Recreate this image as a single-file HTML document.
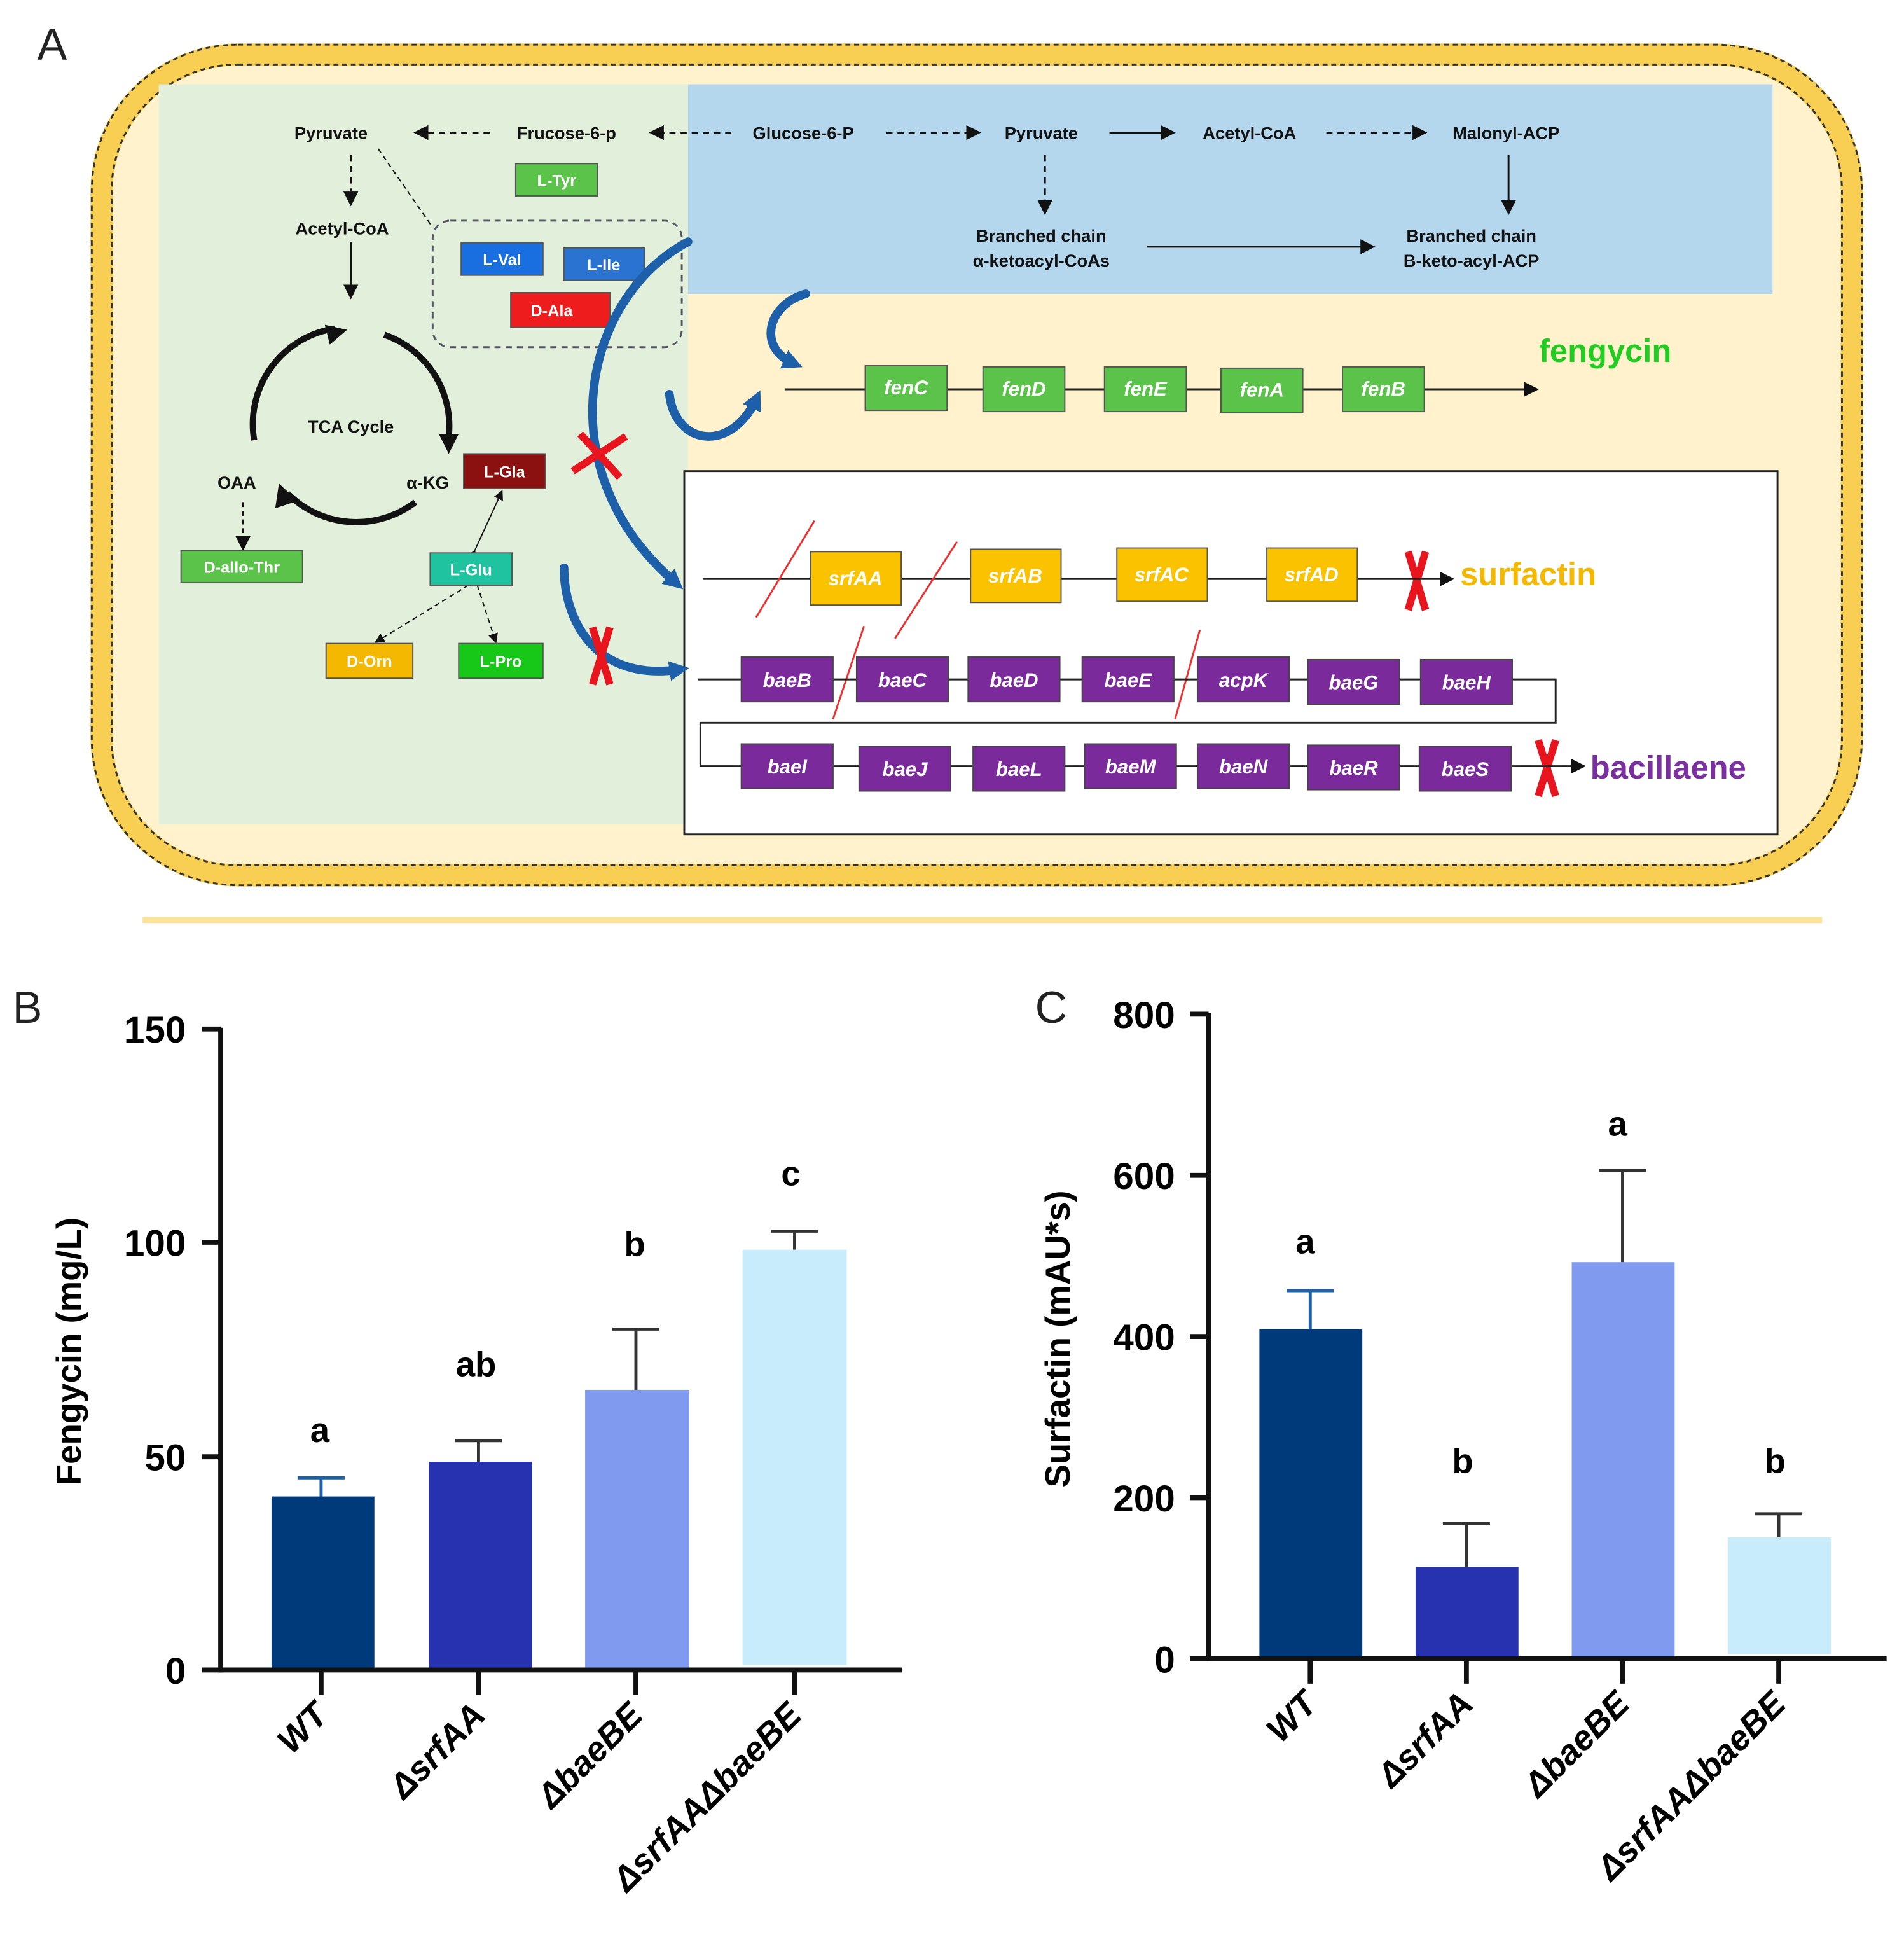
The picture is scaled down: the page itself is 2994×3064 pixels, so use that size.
<!DOCTYPE html>
<html><head><meta charset="utf-8"><style>
html,body{margin:0;padding:0;background:#fff}
svg{display:block}
text{font-family:"Liberation Sans",Arial,sans-serif}
.n{font-size:14px;font-weight:bold;fill:#111}
.bx{font-size:13px;fill:#fff;text-anchor:middle;font-weight:bold}
.g{font-size:16px;fill:#fff;text-anchor:middle;font-weight:bold;font-style:italic}
.ax{font-size:30px;font-weight:bold;text-anchor:end}
.lt{font-size:28px;font-weight:bold;text-anchor:middle}
.xl{font-size:28px;font-weight:bold;font-style:italic;text-anchor:end}
</style></head><body>
<svg width="2994" height="3064" viewBox="0 0 1536 1572" xmlns="http://www.w3.org/2000/svg">
<defs>
<marker id="ah" markerWidth="8" markerHeight="8" refX="7" refY="4" orient="auto"><path d="M0,0 L8,4 L0,8z" fill="#111"/></marker>
<marker id="bh" markerUnits="userSpaceOnUse" markerWidth="16" markerHeight="16" refX="8" refY="8" orient="auto"><path d="M0,0 L16,8 L0,16z" fill="#1d5fa8"/></marker>
</defs>
<text x="30" y="48" font-size="36" fill="#222">A</text>
<rect x="82" y="44" width="1412" height="662" rx="110" fill="#fff2cc" stroke="#f8cf52" stroke-width="18"/>
<rect x="74" y="36" width="1428" height="678" rx="118" fill="none" stroke="#333" stroke-width="1.5" stroke-dasharray="4,3"/>
<rect x="90" y="52" width="1396" height="646" rx="102" fill="none" stroke="#333" stroke-width="1.5" stroke-dasharray="4,3"/>
<rect x="128" y="68" width="427" height="597" fill="#e2efda"/>
<rect x="555" y="68" width="875" height="169" fill="#b4d7ee"/>
<rect x="552" y="380" width="882" height="293" fill="#fff" stroke="#222" stroke-width="1.5"/>
<line x1="115" y1="742" x2="1470" y2="742" stroke="#fbe39a" stroke-width="5"/>
<text class="n" x="267" y="112" text-anchor="middle">Pyruvate</text>
<text class="n" x="457" y="112" text-anchor="middle">Frucose-6-p</text>
<text class="n" x="648" y="112" text-anchor="middle">Glucose-6-P</text>
<text class="n" x="840" y="112" text-anchor="middle">Pyruvate</text>
<text class="n" x="1008" y="112" text-anchor="middle">Acetyl-CoA</text>
<text class="n" x="1215" y="112" text-anchor="middle">Malonyl-ACP</text>
<g stroke="#111" stroke-width="1.5" fill="none">
<line x1="395" y1="107" x2="335" y2="107" stroke-dasharray="5,4" marker-end="url(#ah)"/>
<line x1="590" y1="107" x2="525" y2="107" stroke-dasharray="5,4" marker-end="url(#ah)"/>
<line x1="715" y1="107" x2="790" y2="107" stroke-dasharray="5,4" marker-end="url(#ah)"/>
<line x1="895" y1="107" x2="947" y2="107" marker-end="url(#ah)"/>
<line x1="1070" y1="107" x2="1150" y2="107" stroke-dasharray="5,4" marker-end="url(#ah)"/>
<line x1="843" y1="125" x2="843" y2="172" stroke-dasharray="5,4" marker-end="url(#ah)"/>
<line x1="1217" y1="125" x2="1217" y2="172" marker-end="url(#ah)"/>
<line x1="925" y1="199" x2="1108" y2="199" marker-end="url(#ah)"/>
<line x1="283" y1="125" x2="283" y2="165" stroke-dasharray="5,4" marker-end="url(#ah)"/>
<line x1="305" y1="120" x2="348" y2="182" stroke-dasharray="4,3" stroke-width="1"/>
<line x1="283" y1="195" x2="283" y2="240" marker-end="url(#ah)"/>
<line x1="196" y1="405" x2="196" y2="443" stroke-dasharray="4,3" marker-end="url(#ah)"/>
<line x1="383" y1="444" x2="405" y2="396" stroke-width="1" marker-end="url(#ah)" marker-start="url(#ah)"/>
<line x1="378" y1="472" x2="303" y2="518" stroke-dasharray="4,3" stroke-width="1" marker-end="url(#ah)"/>
<line x1="385" y1="472" x2="400" y2="518" stroke-dasharray="4,3" stroke-width="1" marker-end="url(#ah)"/>
<rect x="349" y="178" width="201" height="102" rx="14" stroke="#556" stroke-dasharray="5,4"/>
</g>
<text class="n" x="276" y="189" text-anchor="middle">Acetyl-CoA</text>
<text class="n" x="840" y="195" text-anchor="middle">Branched chain</text>
<text class="n" x="840" y="215" text-anchor="middle">α-ketoacyl-CoAs</text>
<text class="n" x="1187" y="195" text-anchor="middle">Branched chain</text>
<text class="n" x="1187" y="215" text-anchor="middle">B-keto-acyl-ACP</text>
<g stroke="#111" stroke-width="5" fill="none">
<path d="M205,355 A78,78 0 0 1 270,265"/>
<path d="M310,270 A78,78 0 0 1 362,352"/>
<path d="M335,405 A78,78 0 0 1 232,398"/>
</g>
<path d="M262,262 L280,266 L266,278z" fill="#111"/>
<path d="M354,350 L370,350 L362,366z" fill="#111"/>
<path d="M225,390 L222,410 L240,404z" fill="#111"/>
<text class="n" x="283" y="349" text-anchor="middle">TCA Cycle</text>
<text class="n" x="191" y="394" text-anchor="middle">OAA</text>
<text class="n" x="345" y="394" text-anchor="middle">α-KG</text>
<g stroke="#555" stroke-width="1">
<rect x="416" y="132" width="66" height="26" fill="#5cc34a"/>
<rect x="372" y="196" width="66" height="26" fill="#1a6fe0"/>
<rect x="455" y="200" width="65" height="26" fill="#2b73d0"/>
<rect x="412" y="236" width="80" height="28" fill="#ee1c1c"/>
<rect x="374" y="366" width="66" height="28" fill="#8b1010"/>
<rect x="146" y="444" width="98" height="26" fill="#5cc34a"/>
<rect x="347" y="446" width="66" height="26" fill="#1fc3a0"/>
<rect x="263" y="519" width="70" height="28" fill="#f5b800"/>
<rect x="370" y="519" width="68" height="28" fill="#18c818"/>
</g>
<text class="bx" x="449" y="150">L-Tyr</text>
<text class="bx" x="405" y="214">L-Val</text>
<text class="bx" x="487" y="218">L-Ile</text>
<text class="bx" x="445" y="255">D-Ala</text>
<text class="bx" x="407" y="385">L-Gla</text>
<text class="bx" x="195" y="462">D-allo-Thr</text>
<text class="bx" x="380" y="464">L-Glu</text>
<text class="bx" x="298" y="538">D-Orn</text>
<text class="bx" x="404" y="538">L-Pro</text>
<g stroke="#1d5fa8" stroke-width="7" fill="none" stroke-linecap="round">
<path d="M555,195 C470,240 440,380 545,470" marker-end="url(#bh)"/>
<path d="M650,237 C620,245 610,280 640,293" marker-end="url(#bh)"/>
<path d="M540,318 C545,360 590,365 610,322" marker-end="url(#bh)"/>
<path d="M455,458 C455,500 480,550 548,540" marker-end="url(#bh)"/>
</g>
<g stroke="#e8141e" stroke-width="6">
<line x1="462" y1="380" x2="505" y2="352"/><line x1="468" y1="350" x2="500" y2="385"/>
<line x1="478" y1="506" x2="492" y2="552"/><line x1="492" y1="506" x2="478" y2="552"/>
<line x1="1136" y1="445" x2="1150" y2="492"/><line x1="1150" y1="445" x2="1136" y2="492"/>
<line x1="1241" y1="597" x2="1255" y2="642"/><line x1="1255" y1="597" x2="1241" y2="642"/>
</g>
<line x1="633" y1="314" x2="1240" y2="314" stroke="#222" stroke-width="1.5" marker-end="url(#ah)"/>
<g fill="#5cc34a" stroke="#555">
<rect x="698" y="295" width="66" height="36"/><rect x="793" y="296" width="66" height="36"/><rect x="891" y="296" width="66" height="36"/><rect x="985" y="297" width="66" height="36"/><rect x="1083" y="296" width="66" height="36"/>
</g>
<text class="g" x="731" y="318">fenC</text><text class="g" x="826" y="319">fenD</text><text class="g" x="924" y="319">fenE</text><text class="g" x="1018" y="320">fenA</text><text class="g" x="1116" y="319">fenB</text>
<text x="1295" y="292" font-size="26" font-weight="bold" fill="#22cc22" text-anchor="middle">fengycin</text>
<line x1="567" y1="467" x2="1172" y2="467" stroke="#222" stroke-width="1.5" marker-end="url(#ah)"/>
<g fill="#fbc200" stroke="#555">
<rect x="654" y="445" width="73" height="43"/><rect x="783" y="443" width="73" height="43"/><rect x="901" y="442" width="73" height="43"/><rect x="1022" y="442" width="73" height="43"/>
</g>
<text class="g" x="690" y="472">srfAA</text><text class="g" x="819" y="470">srfAB</text><text class="g" x="937" y="469">srfAC</text><text class="g" x="1058" y="469">srfAD</text>
<text x="1178" y="472" font-size="26" font-weight="bold" fill="#f5b800">surfactin</text>
<g stroke="#f03030" stroke-width="1.5">
<line x1="610" y1="498" x2="657" y2="420"/><line x1="722" y1="515" x2="772" y2="437"/><line x1="672" y1="580" x2="697" y2="505"/><line x1="948" y1="580" x2="968" y2="508"/>
</g>
<path d="M563,548 H1255 V583 H565 V618 H1278" fill="none" stroke="#222" stroke-width="1.5" marker-end="url(#ah)"/>
<g fill="#7a2a9a" stroke="#444">
<rect x="598" y="530" width="74" height="36"/><rect x="691" y="530" width="74" height="36"/><rect x="781" y="530" width="74" height="36"/><rect x="873" y="530" width="74" height="36"/><rect x="966" y="530" width="74" height="36"/><rect x="1055" y="532" width="74" height="36"/><rect x="1146" y="532" width="74" height="36"/>
<rect x="598" y="600" width="74" height="36"/><rect x="693" y="602" width="74" height="36"/><rect x="785" y="602" width="74" height="36"/><rect x="875" y="600" width="74" height="36"/><rect x="966" y="600" width="74" height="36"/><rect x="1055" y="601" width="74" height="36"/><rect x="1145" y="602" width="74" height="36"/>
</g>
<text class="g" x="635" y="554">baeB</text><text class="g" x="728" y="554">baeC</text><text class="g" x="818" y="554">baeD</text><text class="g" x="910" y="554">baeE</text><text class="g" x="1003" y="554">acpK</text><text class="g" x="1092" y="556">baeG</text><text class="g" x="1183" y="556">baeH</text>
<text class="g" x="635" y="624">baeI</text><text class="g" x="730" y="626">baeJ</text><text class="g" x="822" y="626">baeL</text><text class="g" x="912" y="624">baeM</text><text class="g" x="1003" y="624">baeN</text><text class="g" x="1092" y="625">baeR</text><text class="g" x="1182" y="626">baeS</text>
<text x="1283" y="628" font-size="26" font-weight="bold" fill="#7b2fa0">bacillaene</text>
<text x="10" y="825" font-size="36" fill="#222">B</text>
<g stroke="#111" stroke-width="4">
<line x1="178" y1="829" x2="178" y2="1349"/><line x1="176" y1="1347" x2="728" y2="1347"/>
<line x1="163" y1="830" x2="178" y2="830"/><line x1="163" y1="1002" x2="178" y2="1002"/><line x1="163" y1="1175" x2="178" y2="1175"/><line x1="163" y1="1347" x2="178" y2="1347"/>
<line x1="259" y1="1347" x2="259" y2="1367"/><line x1="386" y1="1347" x2="386" y2="1367"/><line x1="513" y1="1347" x2="513" y2="1367"/><line x1="641" y1="1347" x2="641" y2="1367"/>
</g>
<text class="ax" x="150" y="841">150</text><text class="ax" x="150" y="1013">100</text><text class="ax" x="150" y="1186">50</text><text class="ax" x="150" y="1358">0</text>
<text class="lt" transform="translate(65,1090) rotate(-90)" font-size="30">Fengycin (mg/L)</text>
<g stroke-width="2.5">
<line x1="259" y1="1192" x2="259" y2="1207" stroke="#1d5fa8"/><line x1="240" y1="1192" x2="278" y2="1192" stroke="#1d5fa8"/>
<line x1="386" y1="1162" x2="386" y2="1179" stroke="#333"/><line x1="367" y1="1162" x2="405" y2="1162" stroke="#333"/>
<line x1="513" y1="1072" x2="513" y2="1121" stroke="#333"/><line x1="494" y1="1072" x2="532" y2="1072" stroke="#333"/>
<line x1="641" y1="993" x2="641" y2="1008" stroke="#333"/><line x1="622" y1="993" x2="660" y2="993" stroke="#333"/>
</g>
<rect x="219" y="1207" width="83" height="138" fill="#003a7a"/>
<rect x="346" y="1179" width="83" height="166" fill="#2632b0"/>
<rect x="472" y="1121" width="84" height="224" fill="#7f9aef"/>
<rect x="599" y="1008" width="84" height="335" fill="#c8ecfb"/>
<text class="lt" x="258" y="1163">a</text><text class="lt" x="384" y="1110">ab</text><text class="lt" x="512" y="1013">b</text><text class="lt" x="638" y="956">c</text>
<text class="xl" transform="translate(266,1385) rotate(-45)">WT</text>
<text class="xl" transform="translate(393,1385) rotate(-45)">ΔsrfAA</text>
<text class="xl" transform="translate(520,1385) rotate(-45)">ΔbaeBE</text>
<text class="xl" transform="translate(648,1385) rotate(-45)">ΔsrfAAΔbaeBE</text>
<text x="835" y="825" font-size="36" fill="#222">C</text>
<g stroke="#111" stroke-width="4">
<line x1="975" y1="817" x2="975" y2="1340"/><line x1="973" y1="1338" x2="1522" y2="1338"/>
<line x1="960" y1="818" x2="975" y2="818"/><line x1="960" y1="948" x2="975" y2="948"/><line x1="960" y1="1078" x2="975" y2="1078"/><line x1="960" y1="1208" x2="975" y2="1208"/><line x1="960" y1="1338" x2="975" y2="1338"/>
<line x1="1057" y1="1338" x2="1057" y2="1358"/><line x1="1183" y1="1338" x2="1183" y2="1358"/><line x1="1309" y1="1338" x2="1309" y2="1358"/><line x1="1435" y1="1338" x2="1435" y2="1358"/>
</g>
<text class="ax" x="948" y="829">800</text><text class="ax" x="948" y="959">600</text><text class="ax" x="948" y="1089">400</text><text class="ax" x="948" y="1219">200</text><text class="ax" x="948" y="1349">0</text>
<text class="lt" transform="translate(863,1080) rotate(-90)" font-size="30">Surfactin (mAU*s)</text>
<g stroke-width="2.5">
<line x1="1057" y1="1041" x2="1057" y2="1072" stroke="#1d5fa8"/><line x1="1038" y1="1041" x2="1076" y2="1041" stroke="#1d5fa8"/>
<line x1="1183" y1="1229" x2="1183" y2="1264" stroke="#333"/><line x1="1164" y1="1229" x2="1202" y2="1229" stroke="#333"/>
<line x1="1309" y1="944" x2="1309" y2="1018" stroke="#333"/><line x1="1290" y1="944" x2="1328" y2="944" stroke="#333"/>
<line x1="1435" y1="1221" x2="1435" y2="1240" stroke="#333"/><line x1="1416" y1="1221" x2="1454" y2="1221" stroke="#333"/>
</g>
<rect x="1016" y="1072" width="83" height="264" fill="#003a7a"/>
<rect x="1142" y="1264" width="83" height="72" fill="#2632b0"/>
<rect x="1268" y="1018" width="83" height="318" fill="#7f9aef"/>
<rect x="1394" y="1240" width="83" height="94" fill="#c8ecfb"/>
<text class="lt" x="1053" y="1011">a</text><text class="lt" x="1180" y="1188">b</text><text class="lt" x="1305" y="916">a</text><text class="lt" x="1432" y="1188">b</text>
<text class="xl" transform="translate(1064,1376) rotate(-45)">WT</text>
<text class="xl" transform="translate(1190,1376) rotate(-45)">ΔsrfAA</text>
<text class="xl" transform="translate(1316,1376) rotate(-45)">ΔbaeBE</text>
<text class="xl" transform="translate(1442,1376) rotate(-45)">ΔsrfAAΔbaeBE</text>
</svg>
</body></html>
